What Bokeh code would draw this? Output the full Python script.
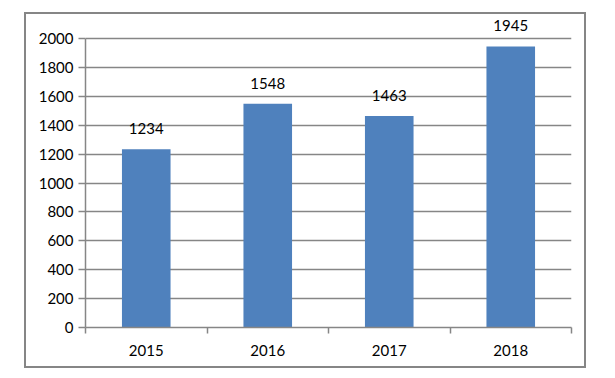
from bokeh.plotting import figure
from bokeh.models import ColumnDataSource, FixedTicker, Range1d, LabelSet
from bokeh.layouts import column
from bokeh.core.properties import value
from bokeh.embed import file_html
from bokeh.resources import INLINE

years = ["2015", "2016", "2017", "2018"]
counts = [1234, 1548, 1463, 1945]
y_ticks = list(range(0, 2001, 200))
y_max = 2000

FONT = "Lato"
GRAY = "#868686"

# frame layout: 2000 sits 20px below frame top
TOP, BOTTOM = 4, 39
H = 352
frame_h = H - TOP - BOTTOM
y_end = y_max * frame_h / (frame_h - 20)

xs = [i + 0.5 for i in range(len(years))]
src = ColumnDataSource(dict(x=xs, top=counts, label=[str(c) for c in counts]))

p = figure(width=558, height=H, output_backend="svg", toolbar_location=None,
           x_range=Range1d(0, len(years)), y_range=Range1d(0, y_end),
           min_border_left=59, min_border_right=13, min_border_top=TOP, min_border_bottom=BOTTOM)
p.outline_line_color = None
p.background_fill_color = "white"
p.border_fill_color = "white"

p.vbar(x="x", top="top", width=0.4, bottom=0, source=src, fill_color="#4F81BD", line_color=None)
labels = LabelSet(x="x", y="top", text="label", source=src, text_align="center", text_baseline="bottom",
                  y_offset=15, text_font=value(FONT), text_font_size=value("15px"), text_color="black")
p.add_layout(labels)

# y axis
p.yaxis.ticker = FixedTicker(ticks=y_ticks)
p.yaxis.bounds = (0, y_max)
p.yaxis.axis_line_color = GRAY
p.yaxis.axis_line_width = 1.5
p.yaxis.major_tick_line_color = GRAY
p.yaxis.major_tick_line_width = 1.5
p.yaxis.major_tick_in = 0
p.yaxis.major_tick_out = 7
p.yaxis.minor_tick_line_color = None
p.yaxis.major_label_text_font = FONT
p.yaxis.major_label_text_font_size = "15px"
p.yaxis.major_label_text_color = "black"
p.yaxis.major_label_standoff = 5

# x axis
p.xaxis.ticker = FixedTicker(ticks=xs, minor_ticks=list(range(len(years) + 1)))
p.xaxis.major_label_overrides = {x: y for x, y in zip(xs, years)}
p.xaxis.axis_line_color = GRAY
p.xaxis.axis_line_width = 1.5
p.xaxis.major_tick_line_color = None
p.xaxis.minor_tick_line_color = GRAY
p.xaxis.minor_tick_line_width = 1.5
p.xaxis.minor_tick_in = 0
p.xaxis.minor_tick_out = 6
p.xaxis.major_label_text_font = FONT
p.xaxis.major_label_text_font_size = "15px"
p.xaxis.major_label_text_color = "black"
p.xaxis.major_label_standoff = 11

p.xgrid.grid_line_color = None
p.ygrid.ticker = FixedTicker(ticks=y_ticks)
p.ygrid.grid_line_color = GRAY
p.ygrid.grid_line_width = 1.5

boxed = column(p, styles={"border": "2px solid " + GRAY, "transform": "translate(24px, 12px)"})

open("out.html", "w").write(file_html(boxed, INLINE))
